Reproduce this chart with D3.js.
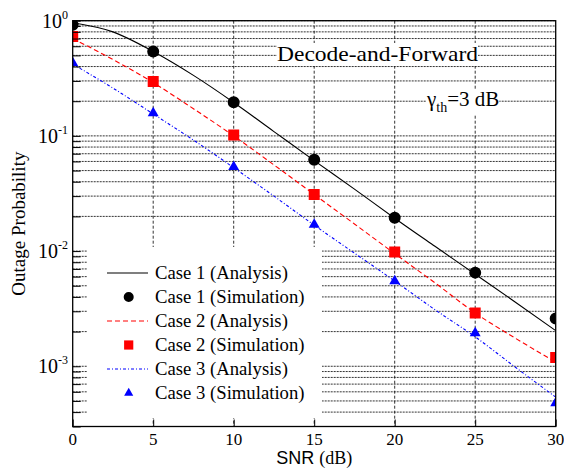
<!DOCTYPE html>
<html>
<head>
<meta charset="utf-8">
<script src="https://cdn.jsdelivr.net/npm/d3@7"></script>
<style>
  body { margin: 0; background: #fff; }
  text { font-family: "Palatino Linotype", "Book Antiqua", Palatino, "Liberation Serif", serif; fill: #000; }
</style>
</head>
<body>
<svg id="chart" width="564" height="476"></svg>
<script>
// simulation points (every 5 dB)
var snrSim = [0, 5, 10, 15, 20, 25, 30];
var case1Sim = [0.92, 0.54, 0.196, 0.062, 0.0195, 0.0065, 0.0026];
var case2Sim = [0.73, 0.297, 0.102, 0.031, 0.0098, 0.0029, 0.00119];
var case3Sim = [0.43, 0.158, 0.054, 0.017, 0.0055, 0.00194, 0.00048];

// analysis curves (read every 2.5 dB)
var snrAna = [0, 2.5, 5, 7.5, 10, 12.5, 15, 17.5, 20, 22.5, 25, 27.5, 30];
var case1Ana = [0.96, 0.8, 0.54, 0.335, 0.195, 0.109, 0.061, 0.0345, 0.0193, 0.011, 0.0063, 0.0036, 0.00204];
var case2Ana = [0.70, 0.46, 0.29, 0.172, 0.1, 0.056, 0.031, 0.0172, 0.0095, 0.0053, 0.0029, 0.00175, 0.00109];
var case3Ana = [0.42, 0.26, 0.155, 0.092, 0.053, 0.030, 0.0168, 0.0096, 0.0055, 0.0031, 0.0018, 0.00098, 0.00054];

var xTicks = [0, 5, 10, 15, 20, 25, 30];
var yDecades = [0, -1, -2, -3];
var legendLabels = ["Case 1 (Analysis)", "Case 1 (Simulation)", "Case 2 (Analysis)",
                    "Case 2 (Simulation)", "Case 3 (Analysis)", "Case 3 (Simulation)"];

var svg = d3.select("#chart");
var pLeft = 72.7, pRight = 555.7, pTop = 20.7, pBottom = 426.5;

var x = d3.scaleLinear().domain([0, 30]).range([pLeft, pRight]);
var y = d3.scaleLog().domain([3e-4, 1]).range([pBottom, pTop]);

svg.append("defs").append("clipPath").attr("id", "plotclip")
  .append("rect")
    .attr("x", pLeft).attr("y", pTop)
    .attr("width", pRight - pLeft).attr("height", pBottom - pTop);

// grid
var grid = svg.append("g");
grid.selectAll(".hgrid")
  .data(y.ticks())
  .enter().append("line")
    .attr("x1", pLeft).attr("x2", pRight)
    .attr("y1", function(d) { return y(d); })
    .attr("y2", function(d) { return y(d); })
    .attr("stroke", "#111")
    .attr("stroke-width", 1)
    .attr("stroke-dasharray", "2,1")
    .attr("opacity", 0.85);
grid.selectAll(".vgrid")
  .data(xTicks.slice(1, -1))
  .enter().append("line")
    .attr("y1", pTop).attr("y2", pBottom)
    .attr("x1", function(d) { return x(d); })
    .attr("x2", function(d) { return x(d); })
    .attr("stroke", "#111")
    .attr("stroke-width", 1)
    .attr("stroke-dasharray", "3,2")
    .attr("opacity", 0.85);

// legend background
svg.append("rect")
  .attr("x", 87).attr("y", 247)
  .attr("width", 235).attr("height", 171)
  .attr("fill", "#fff");

var plot = svg.append("g").attr("class", "curves").attr("clip-path", "url(#plotclip)");

// annotations with white boxes
function boxedText(t) {
  var bb = t.node().getBBox();
  svg.insert("rect", "g.curves")
    .attr("x", bb.x).attr("y", bb.y + 2)
    .attr("width", bb.width).attr("height", bb.height - 2)
    .attr("fill", "#fff");
}

var t1 = svg.append("text")
  .attr("x", 277).attr("y", 61)
  .attr("textLength", 201)
  .attr("lengthAdjust", "spacingAndGlyphs")
  .style("font-size", "22px")
  .text("Decode-and-Forward");
boxedText(t1);

var t2 = svg.append("text")
  .attr("x", 427).attr("y", 106)
  .style("font-size", "21px");
t2.append("tspan").text("\u03b3");
t2.append("tspan").attr("dy", 6).style("font-size", "14px").text("th");
t2.append("tspan").attr("dy", -6).text("=3 dB");
boxedText(t2);

var series = [
  {ana: case1Ana, sim: case1Sim, color: "#000", dash: null, symbol: d3.symbolCircle, size: 113},
  {ana: case2Ana, sim: case2Sim, color: "#ff0000", dash: "5,3", symbol: d3.symbolSquare, size: 121},
  {ana: case3Ana, sim: case3Sim, color: "#0000ff", dash: "3,2,1,2", symbol: d3.symbolTriangle, size: 52}
];

var line = d3.line()
  .x(function(d, i) { return x(snrAna[i]); })
  .y(function(d) { return y(d); })
  .curve(d3.curveMonotoneX);

series.forEach(function(s) {
  plot.append("path")
    .attr("d", line(s.ana))
    .attr("fill", "none")
    .attr("stroke", s.color)
    .attr("stroke-width", 1.1)
    .attr("stroke-dasharray", s.dash);
  plot.selectAll(null)
    .data(s.sim)
    .enter().append("path")
      .attr("d", d3.symbol().type(s.symbol).size(s.size))
      .attr("transform", function(d, i) { return "translate(" + x(snrSim[i]) + "," + y(d) + ")"; })
      .attr("fill", s.color);
});

// frame
svg.append("rect")
  .attr("x", pLeft).attr("y", pTop)
  .attr("width", pRight - pLeft).attr("height", pBottom - pTop)
  .attr("fill", "none").attr("stroke", "#000").attr("stroke-width", 1.3);

// inward ticks
svg.append("g")
  .attr("transform", "translate(0," + pBottom + ")")
  .call(d3.axisBottom(x).tickValues(xTicks).tickSize(-7).tickFormat(""))
  .call(function(g) { g.select(".domain").remove(); });
svg.append("g")
  .attr("transform", "translate(" + pLeft + ",0)")
  .call(d3.axisLeft(y).tickValues(y.ticks()).tickSize(-8).tickFormat(""))
  .call(function(g) { g.select(".domain").remove(); });

// x tick labels
svg.selectAll(".xlab")
  .data(xTicks)
  .enter().append("text")
    .attr("x", function(d) { return x(d); })
    .attr("y", 445)
    .attr("text-anchor", "middle")
    .style("font-size", "17px")
    .text(function(d) { return d; });

// y tick labels 10^k
var ylab = svg.selectAll(".ylab")
  .data(yDecades)
  .enter().append("text")
    .attr("x", 68)
    .attr("y", function(d) { return y(Math.pow(10, d)) + 7; })
    .attr("text-anchor", "end")
    .style("font-size", "20px");
ylab.append("tspan").text("10");
ylab.append("tspan").attr("dy", -9).style("font-size", "12px").text(function(d) { return d === 0 ? "0" : "-" + (-d); });

// axis titles
var xt = svg.append("text")
  .attr("x", (pLeft + pRight) / 2).attr("y", 464)
  .attr("text-anchor", "middle")
  .style("font-size", "18px");
xt.append("tspan").style("font-family", "'Liberation Sans', Arial, sans-serif").text("SNR ");
xt.append("tspan").text("(dB)");

svg.append("text")
  .attr("transform", "translate(25," + ((pTop + pBottom) / 2) + ") rotate(-90)")
  .attr("text-anchor", "middle")
  .style("font-size", "19px")
  .text("Outage Probability");

// legend
var leg = svg.append("g");
legendLabels.forEach(function(lbl, i) {
  var s = series[Math.floor(i / 2)];
  var ly = 273 + i * 24;
  if (i % 2 === 0) {
    leg.append("line")
      .attr("x1", 107).attr("x2", 148)
      .attr("y1", ly).attr("y2", ly)
      .attr("stroke", s.color)
      .attr("stroke-width", 1.1)
      .attr("stroke-dasharray", s.dash);
  } else {
    leg.append("path")
      .attr("d", d3.symbol().type(s.symbol).size(s.size * 0.7))
      .attr("transform", "translate(128.7," + ly + ")")
      .attr("fill", s.color);
  }
  leg.append("text")
    .attr("x", 155).attr("y", ly + 6)
    .style("font-size", "18.7px")
    .text(lbl);
});
</script>
</body>
</html>
